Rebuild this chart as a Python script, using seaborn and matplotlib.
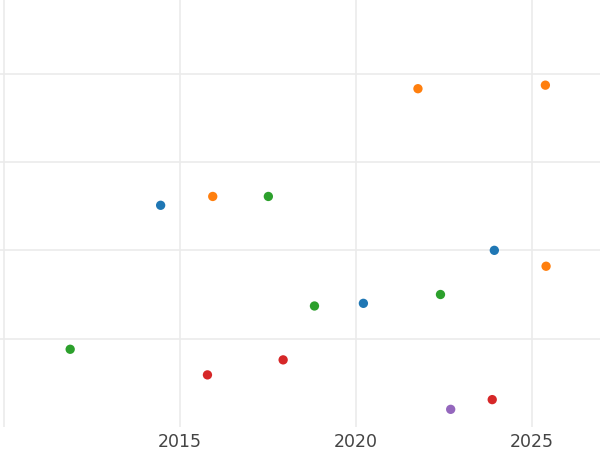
import pandas as pd
import matplotlib
matplotlib.use("Agg")
import matplotlib.pyplot as plt
import seaborn as sns

# values
years_a = [2014.45, 2020.21, 2023.93]
vals_a = [2.51, 1.40, 2.00]
years_b = [2015.93, 2021.76, 2025.38, 2025.40]
vals_b = [2.61, 3.83, 3.87, 1.82]
years_c = [2011.88, 2017.51, 2018.82, 2022.40]
vals_c = [0.88, 2.61, 1.37, 1.50]
years_d = [2015.78, 2017.93, 2023.87]
vals_d = [0.59, 0.76, 0.31]
years_e = [2022.69]
vals_e = [0.20]

groups = ["A", "B", "C", "D", "E"]
xs = [years_a, years_b, years_c, years_d, years_e]
ys = [vals_a, vals_b, vals_c, vals_d, vals_e]

rows = []
for g, xv, yv in zip(groups, xs, ys):
    for x, y in zip(xv, yv):
        rows.append({"year": x, "value": y, "group": g})
df = pd.DataFrame(rows)

sns.set_style("whitegrid")

fig = plt.figure(figsize=(6, 4.5), dpi=100)
ax = fig.add_axes([0, 23 / 450, 1, 427 / 450])

sns.scatterplot(data=df, x="year", y="value", hue="group", hue_order=groups,
                palette="tab10", s=45, linewidth=0, legend=False, ax=ax)

ax.set_xlim(2010 - 4 / 35.2, 2010 + 596 / 35.2)
ax.set_ylim(0, 427 / 88.33)
ax.set_xticks([2010, 2015, 2020, 2025])
ax.set_xticklabels(["", "2015", "2020", "2025"])
ax.set_yticks([1, 2, 3, 4])
ax.set_yticklabels([])
ax.grid(color="#ebebeb", linewidth=1.2)
ax.tick_params(length=0, labelsize=12.5, labelcolor="#444444", pad=4)
ax.set_xlabel("")
ax.set_ylabel("")
for s in ax.spines.values():
    s.set_visible(False)

fig.savefig("out.png", dpi=100)
